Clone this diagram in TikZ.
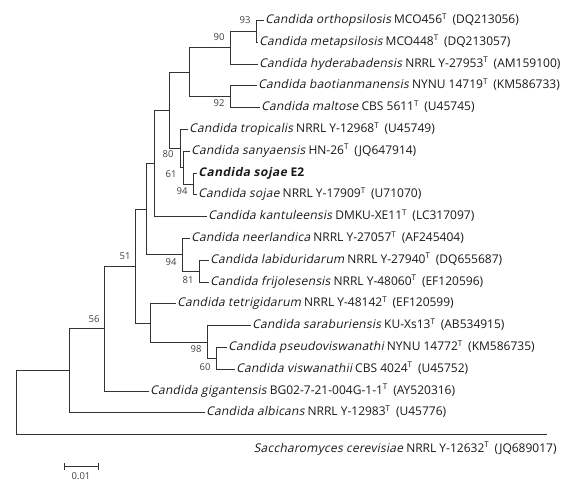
\documentclass[tikz,border=0pt]{standalone}
\usepackage{fontspec}
\setmainfont{Open Sans}
\newfontfamily\cands[FakeSlant=0.2, LetterSpace=2]{Open Sans}
\newfontfamily\candsb[FakeSlant=0.2, LetterSpace=4]{Open Sans Bold}
\newcommand{\sups}{\textsuperscript{T}}
\newcommand{\tx}[3]{{\cands Candida #1} #2\sups\hspace{0.45em}(#3)}
\begin{document}
\begin{tikzpicture}[x=1pt,y=-1pt,
  br/.style={draw=black!80, line width=0.85pt},
  leaf/.style={anchor=west, inner xsep=1.2pt, inner ysep=0pt, font=\fontsize{12}{14}\selectfont, text=black!90, text height=9pt, text depth=3pt},
  bs/.style={font=\fontsize{9.5}{10}\selectfont, text=black!75, inner sep=0pt}]
\useasboundingbox (0,0) rectangle (583,486);
% leaf tips
\coordinate (t1) at (264,20.5);
\coordinate (t2) at (258,42.3);
\coordinate (t3) at (258,64.1);
\coordinate (t4) at (257,85.9);
\coordinate (t5) at (260,107.7);
\coordinate (t6) at (188,129.5);
\coordinate (t7) at (190,151.3);
\coordinate (t8) at (197,173.1);
\coordinate (t9) at (197,194.9);
\coordinate (t10) at (207,216.7);
\coordinate (t11) at (190,238.5);
\coordinate (t12) at (209,260.3);
\coordinate (t13) at (209,282.1);
\coordinate (t14) at (176,303.9);
\coordinate (t15) at (251,325.7);
\coordinate (t16) at (227,347.5);
\coordinate (t17) at (235,369.3);
\coordinate (t18) at (149,391.1);
\coordinate (t19) at (205,412.9);
\coordinate (t20) at (547,434.7);
% internal nodes
\coordinate (n93) at (256,31.4);
\coordinate (n90) at (230,47.75);
\coordinate (n92) at (230,96.8);
\coordinate (nA) at (189,72.3);
\coordinate (n94) at (193,184);
\coordinate (n61) at (183,167.65);
\coordinate (n80) at (180,148.6);
\coordinate (nB) at (169,110.4);
\coordinate (nC) at (154,163.6);
\coordinate (n81) at (199,271.2);
\coordinate (n94b) at (182,254.85);
\coordinate (nD) at (146,209.2);
\coordinate (n60) at (216,358.4);
\coordinate (n98) at (207,342.05);
\coordinate (nE) at (150,323);
\coordinate (n51) at (135,266.1);
\coordinate (n56) at (104,328.6);
\coordinate (nF) at (69,370.75);
\coordinate (root) at (16,402.7);
% labels
\node[leaf] (l1) at (t1) {\tx{orthopsilosis}{MCO456}{DQ213056}};
\node[leaf] (l2) at (t2) {\tx{metapsilosis}{MCO448}{DQ213057}};
\node[leaf] (l3) at (t3) {\tx{hyderabadensis}{NRRL Y-27953}{AM159100}};
\node[leaf] (l4) at (t4) {\tx{baotianmanensis}{NYNU 14719}{KM586733}};
\node[leaf] (l5) at (t5) {\tx{maltose}{CBS 5611}{U45745}};
\node[leaf] (l6) at (t6) {\tx{tropicalis}{NRRL Y-12968}{U45749}};
\node[leaf] (l7) at (t7) {\tx{sanyaensis}{HN-26}{JQ647914}};
\node[leaf] (l8) at (t8) {{\candsb Candida sojae} \textbf{E2}};
\node[leaf] (l9) at (t9) {\tx{sojae}{NRRL Y-17909}{U71070}};
\node[leaf] (l10) at (t10) {\tx{kantuleensis}{DMKU-XE11}{LC317097}};
\node[leaf] (l11) at (t11) {\tx{neerlandica}{NRRL Y-27057}{AF245404}};
\node[leaf] (l12) at (t12) {\tx{labiduridarum}{NRRL Y-27940}{DQ655687}};
\node[leaf] (l13) at (t13) {\tx{frijolesensis}{NRRL Y-48060}{EF120596}};
\node[leaf] (l14) at (t14) {\tx{tetrigidarum}{NRRL Y-48142}{EF120599}};
\node[leaf] (l15) at (t15) {\tx{saraburiensis}{KU-Xs13}{AB534915}};
\node[leaf] (l16) at (t16) {\tx{pseudoviswanathi}{NYNU 14772}{KM586735}};
\node[leaf] (l17) at (t17) {\tx{viswanathii}{CBS 4024}{U45752}};
\node[leaf] (l18) at (t18) {\tx{gigantensis}{BG02-7-21-004G-1-1}{AY520316}};
\node[leaf] (l19) at (t19) {\tx{albicans}{NRRL Y-12983}{U45776}};
\node[leaf, anchor=east] (l20) at (558,449) {{\cands Saccharomyces cerevisiae} NRRL Y-12632\sups\hspace{0.45em}(JQ689017)};
% branches
\draw[br] (n93) |- (t1); \draw[br] (n93) |- (t2);
\draw[br] (n90) |- (n93); \draw[br] (n90) |- (t3);
\draw[br] (n92) |- (t4); \draw[br] (n92) |- (t5);
\draw[br] (nA) |- (n90); \draw[br] (nA) |- (n92);
\draw[br] (n94) |- (t8); \draw[br] (n94) |- (t9);
\draw[br] (n61) |- (t7); \draw[br] (n61) |- (n94);
\draw[br] (n80) |- (t6); \draw[br] (n80) |- (n61);
\draw[br] (nB) |- (nA); \draw[br] (nB) |- (n80);
\draw[br] (nC) |- (nB); \draw[br] (nC) |- (t10);
\draw[br] (n81) |- (t12); \draw[br] (n81) |- (t13);
\draw[br] (n94b) |- (t11); \draw[br] (n94b) |- (n81);
\draw[br] (nD) |- (nC); \draw[br] (nD) |- (n94b);
\draw[br] (n60) |- (t16); \draw[br] (n60) |- (t17);
\draw[br] (n98) |- (t15); \draw[br] (n98) |- (n60);
\draw[br] (nE) |- (t14); \draw[br] (nE) |- (n98);
\draw[br] (n51) |- (nD); \draw[br] (n51) |- (nE);
\draw[br] (n56) |- (n51); \draw[br] (n56) |- (t18);
\draw[br] (nF) |- (n56); \draw[br] (nF) |- (t19);
\draw[br] (root) |- (nF); \draw[br] (root) |- (t20);
% bootstrap values
\node[bs] (b93) at (245,20.5) {93};
\node[bs] (b90) at (219,37) {90};
\node[bs] (b92) at (219,103) {92};
\node[bs] (b80) at (168,154) {80};
\node[bs] (b61) at (171,174) {61};
\node[bs] (b94) at (182,191) {94};
\node[bs] (b94b) at (171,262) {94};
\node[bs] (b81) at (188,280) {81};
\node[bs] (b51) at (125,256) {51};
\node[bs] (b56) at (94,319) {56};
\node[bs] (b98) at (196,349) {98};
\node[bs] (b60) at (205,367) {60};
% scale bar
\coordinate (s1) at (64,466);
\coordinate (s2) at (98,466);
\draw[br, line width=0.8pt] (s1) -- (s2);
\draw[br, line width=0.8pt] ([yshift=-3.5pt]s1) -- ([yshift=3.5pt]s1);
\draw[br, line width=0.8pt] ([yshift=-3.5pt]s2) -- ([yshift=3.5pt]s2);
\node[bs] (sl) at (81,476) {0.01};
\end{tikzpicture}
\end{document}
